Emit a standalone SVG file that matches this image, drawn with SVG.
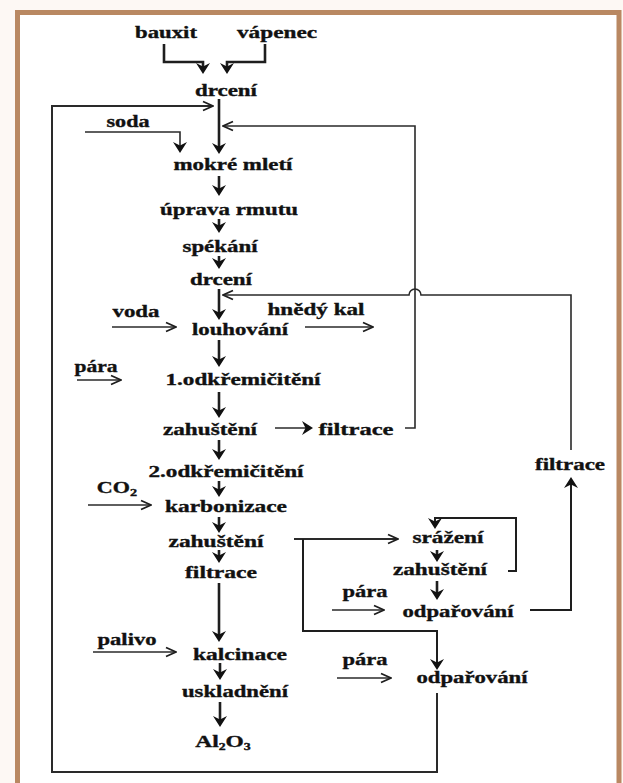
<svg xmlns="http://www.w3.org/2000/svg" width="623" height="783" viewBox="0 0 623 783">
<style>
  text{font-family:"Liberation Serif","Times New Roman",serif;font-weight:bold;font-size:17px;fill:#111;stroke:#111;stroke-width:0.35;text-anchor:middle}
  .flow{fill:none;stroke:#1e1e1e;stroke-width:2.6;marker-end:url(#ah)}
  .loop{fill:none;stroke:#2a2a2a;stroke-width:2}
  .thin{fill:none;stroke:#2a2a2a;stroke-width:1.5;marker-end:url(#oh)}
</style>
<defs>
  <marker id="ah" viewBox="0 0 11 14" refX="8" refY="7" markerWidth="11" markerHeight="14" markerUnits="userSpaceOnUse" orient="auto">
    <path d="M0,0 L11,7 L0,14 L3.5,7 Z" fill="#111"/>
  </marker>
  <marker id="oh" viewBox="0 0 12 12" refX="11" refY="6" markerWidth="12" markerHeight="12" markerUnits="userSpaceOnUse" orient="auto">
    <path d="M1,1.5 L11,6 L1,10.5" fill="none" stroke="#1e1e1e" stroke-width="1.8" stroke-linejoin="miter"/>
  </marker>
</defs>
<rect x="0" y="0" width="623" height="783" fill="#fdf8f4"/>
<rect x="17" y="12" width="602" height="771" fill="#ffffff"/>
<path d="M17.5,783 V12.5 H619 V783" fill="none" stroke="#b98862" stroke-width="5"/>

<g id="connectors">
  <path class="flow" d="M164,44 V62 H203 V71"/>
  <path class="flow" d="M265,44 V62 H227 V71"/>
  <path class="flow" d="M219,99 V151"/>
  <path class="loop" d="M437,693 V772 H52 V106 H213" marker-end="url(#oh)"/>
  <path class="thin" d="M85,132 H180 V150" style="stroke-width:1.6;marker-end:url(#ah)"/>
  <path class="loop" d="M405,428 H415 V126 H223" marker-end="url(#oh)" style="stroke-width:1.6"/>
  <path class="flow" d="M219,176 V193"/>
  <path class="flow" d="M219,219 V230"/>
  <path class="flow" d="M219,256 V266"/>
  <path class="flow" d="M219,289 V317"/>
  <path class="loop" d="M571,450 V295 H421 A6,6 0 0 0 409,295 H223" marker-end="url(#oh)" style="stroke-width:1.6"/>
  <path class="thin" d="M112,327 H176"/>
  <path class="thin" d="M305,327 H373"/>
  <path class="flow" d="M219,340 V364"/>
  <path class="thin" d="M77,380 H121"/>
  <path class="flow" d="M219,392 V415"/>
  <path class="thin" d="M275,428 H310" style="marker-end:url(#ah)"/>
  <path class="flow" d="M219,440 V457"/>
  <path class="flow" d="M219,481 V494"/>
  <path class="thin" d="M88,505 H151"/>
  <path class="flow" d="M219,517 V530"/>
  <path class="flow" d="M219,550 V560"/>
  <path class="flow" d="M219,583 V639"/>
  <path class="thin" d="M93,652 H176"/>
  <path class="flow" d="M220,663 V677"/>
  <path class="flow" d="M220,702 V724"/>
  <path class="thin" d="M294,539 H398" style="stroke-width:1.8"/>
  <path class="flow" d="M303,539 V631 H437 V667" style="stroke-width:2"/>
  <path class="flow" d="M508,571 H516 V518 H435 V526" style="stroke-width:2"/>
  <path class="flow" d="M437,550 V559"/>
  <path class="flow" d="M437,581 V597"/>
  <path class="thin" d="M332,610 H384"/>
  <path class="flow" d="M530,610 H571 V480" style="stroke-width:2"/>
  <path class="thin" d="M337,678 H391"/>
</g>

<g id="bauxit"><text x="166" y="38" textLength="62" lengthAdjust="spacingAndGlyphs">bauxit</text></g>
<g id="vapenec"><text x="277" y="38" textLength="80" lengthAdjust="spacingAndGlyphs">vápenec</text></g>
<g id="drceni1"><text x="226" y="96" textLength="62" lengthAdjust="spacingAndGlyphs">drcení</text></g>
<g id="soda"><text x="128" y="127" textLength="43" lengthAdjust="spacingAndGlyphs">soda</text></g>
<g id="mokre"><text x="233" y="170" textLength="119" lengthAdjust="spacingAndGlyphs">mokré mletí</text></g>
<g id="uprava"><text x="229" y="215" textLength="138" lengthAdjust="spacingAndGlyphs">úprava rmutu</text></g>
<g id="spekani"><text x="220" y="252" textLength="75" lengthAdjust="spacingAndGlyphs">spékání</text></g>
<g id="drceni2"><text x="221" y="285" textLength="62" lengthAdjust="spacingAndGlyphs">drcení</text></g>
<g id="voda"><text x="136" y="317" textLength="47" lengthAdjust="spacingAndGlyphs">voda</text></g>
<g id="louhovani"><text x="240" y="335" textLength="96" lengthAdjust="spacingAndGlyphs">louhování</text></g>
<g id="hnedykal"><text x="316" y="315" textLength="97" lengthAdjust="spacingAndGlyphs">hnědý kal</text></g>
<g id="para1"><text x="96" y="372" textLength="43" lengthAdjust="spacingAndGlyphs">pára</text></g>
<g id="odkrem1"><text x="243" y="385" textLength="155" lengthAdjust="spacingAndGlyphs">1.odkřemičitění</text></g>
<g id="zahusteni1"><text x="210" y="435" textLength="94" lengthAdjust="spacingAndGlyphs">zahuštění</text></g>
<g id="filtrace1"><text x="356" y="435" textLength="75" lengthAdjust="spacingAndGlyphs">filtrace</text></g>
<g id="odkrem2"><text x="226" y="477" textLength="155" lengthAdjust="spacingAndGlyphs">2.odkřemičitění</text></g>
<g id="co2"><text transform="translate(117,493) scale(1.3,1)">CO<tspan font-size="11" dy="3">2</tspan></text></g>
<g id="karbonizace"><text x="226" y="512" textLength="122" lengthAdjust="spacingAndGlyphs">karbonizace</text></g>
<g id="zahusteni2"><text x="216" y="547" textLength="95" lengthAdjust="spacingAndGlyphs">zahuštění</text></g>
<g id="filtrace2"><text x="221" y="578" textLength="72" lengthAdjust="spacingAndGlyphs">filtrace</text></g>
<g id="palivo"><text x="127" y="645" textLength="59" lengthAdjust="spacingAndGlyphs">palivo</text></g>
<g id="kalcinace"><text x="240" y="660" textLength="94" lengthAdjust="spacingAndGlyphs">kalcinace</text></g>
<g id="uskladneni"><text x="235" y="697" textLength="106" lengthAdjust="spacingAndGlyphs">uskladnění</text></g>
<g id="al2o3"><text transform="translate(223,747) scale(1.38,1)">Al<tspan font-size="10" dy="3">2</tspan><tspan dy="-3">O</tspan><tspan font-size="10" dy="3">3</tspan></text></g>
<g id="filtrace3"><text x="570" y="470" textLength="70" lengthAdjust="spacingAndGlyphs">filtrace</text></g>
<g id="srazeni"><text x="448" y="543" textLength="71" lengthAdjust="spacingAndGlyphs">srážení</text></g>
<g id="zahusteni3"><text x="440" y="575" textLength="94" lengthAdjust="spacingAndGlyphs">zahuštění</text></g>
<g id="odparovani1"><text x="458" y="617" textLength="111" lengthAdjust="spacingAndGlyphs">odpařování</text></g>
<g id="para2"><text x="365" y="597" textLength="45" lengthAdjust="spacingAndGlyphs">pára</text></g>
<g id="odparovani2"><text x="472" y="683" textLength="111" lengthAdjust="spacingAndGlyphs">odpařování</text></g>
<g id="para3"><text x="365" y="665" textLength="45" lengthAdjust="spacingAndGlyphs">pára</text></g>
</svg>
